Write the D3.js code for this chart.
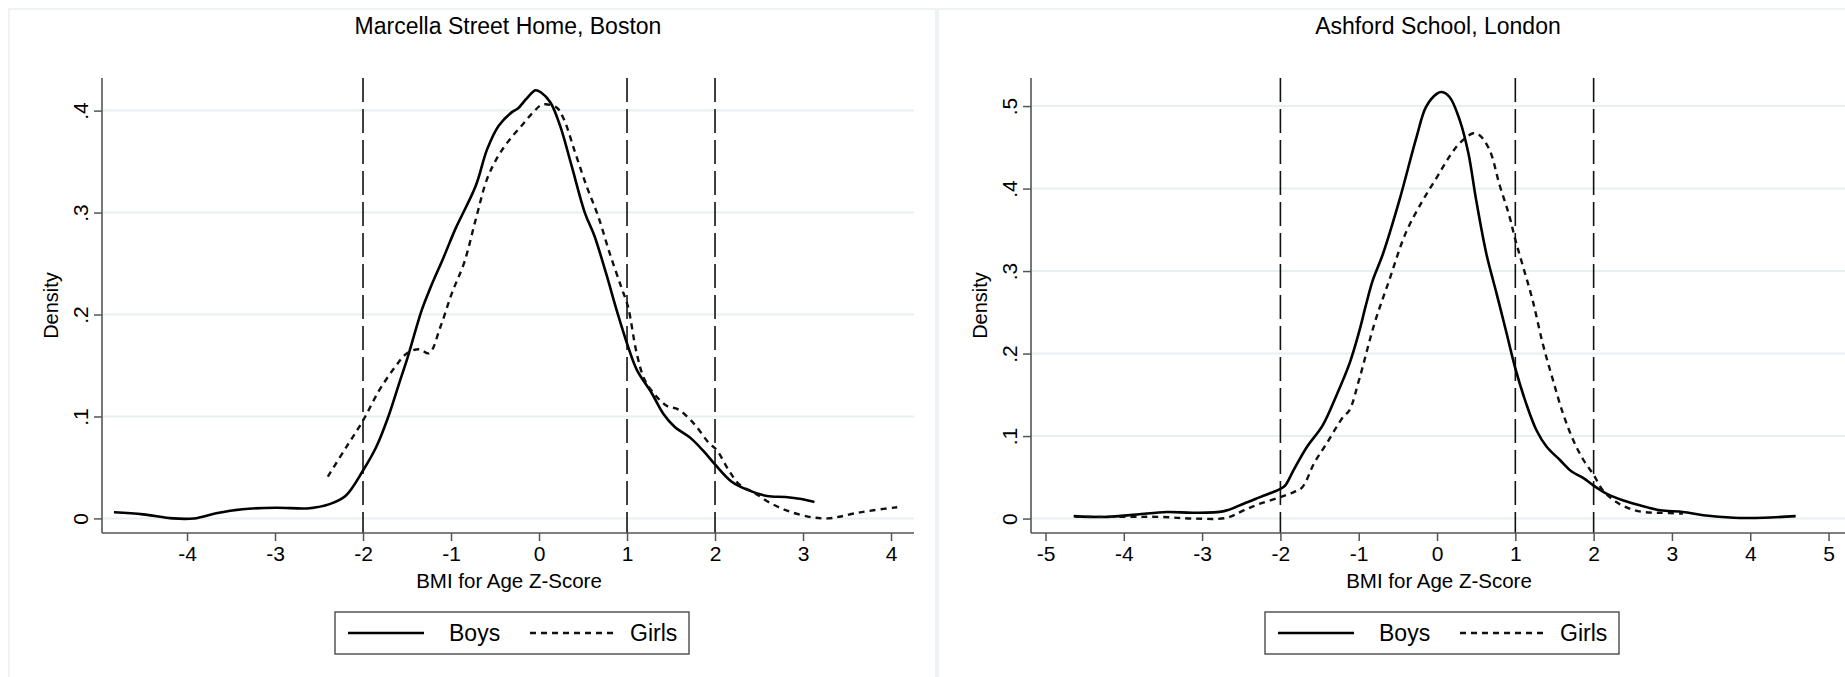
<!DOCTYPE html>
<html>
<head>
<meta charset="utf-8">
<script src="https://cdn.jsdelivr.net/npm/d3@7"></script>
<style>
  body { margin: 0; background: #fff; }
  svg { display: block; }
  text { font-family: "Liberation Sans", Arial, Helvetica, sans-serif; fill: #000; }
</style>
</head>
<body>
<svg width="1845" height="677"></svg>
<script>
// Marcella Street Home, Boston
const bostonBoysX = [-4.83,-4.5,-4.16,-3.92,-3.67,-3.37,-2.99,-2.61,-2.38,-2.2,-2.0,-1.85,-1.72,-1.58,-1.5,-1.33,-1.24,-1.08,-0.95,-0.72,-0.59,-0.46,-0.3,-0.24,-0.15,-0.04,0.02,0.13,0.24,0.37,0.52,0.63,0.76,0.89,1.01,1.11,1.28,1.41,1.54,1.72,1.87,2.01,2.19,2.37,2.59,2.8,2.98,3.13]
const bostonBoysY = [.006,.004,0,0,.005,.009,.0105,.010,.014,.022,.047,.07,.098,.135,.156,.205,.225,.257,.284,.326,.362,.385,.399,.402,.411,.420,.418,.408,.385,.346,.300,.277,.241,.202,.169,.146,.123,.103,.090,.079,.066,.052,.036,.028,.022,.021,.019,.016]
const bostonGirlsX = [-2.4,-2.19,-2.0,-1.82,-1.64,-1.5,-1.36,-1.25,-1.12,-0.99,-0.85,-0.72,-0.59,-0.46,-0.33,-0.2,-0.07,0.04,0.2,0.28,0.41,0.54,0.67,0.8,0.93,1.01,1.11,1.2,1.33,1.46,1.58,1.76,1.93,2.02,2.15,2.28,2.45,2.63,2.85,3.11,3.28,3.41,3.59,3.8,4.07]
const bostonGirlsY = [.041,.070,.096,.125,.148,.162,.166,.162,.188,.221,.251,.293,.333,.356,.372,.385,.398,.406,.403,.392,.359,.326,.297,.261,.228,.208,.162,.136,.120,.110,.107,.093,.074,.067,.048,.033,.025,.015,.0066,.001,0,.0016,.005,.008,.011]

// Ashford School, London
const ashfordBoysX = [-4.64,-4.21,-3.83,-3.45,-3.11,-2.72,-2.47,-2.26,-2.0,-1.94,-1.83,-1.66,-1.46,-1.29,-1.11,-0.99,-0.91,-0.82,-0.69,-0.48,-0.26,-0.14,0.0,0.06,0.16,0.29,0.4,0.5,0.63,0.76,0.89,1.0,1.14,1.27,1.4,1.57,1.72,1.87,2.0,2.17,2.38,2.59,2.85,3.14,3.4,3.79,4.17,4.58]
const ashfordBoysY = [.003,.002,.005,.008,.007,.009,.018,.026,.036,.040,.059,.087,.113,.148,.190,.228,.258,.289,.321,.386,.463,.499,.515,.517,.511,.483,.443,.386,.321,.273,.224,.182,.139,.107,.087,.071,.057,.049,.040,.030,.022,.016,.010,.008,.004,.001,.001,.003]
const ashfordGirlsX = [-4.62,-3.96,-3.53,-3.11,-2.68,-2.47,-2.26,-2.0,-1.83,-1.72,-1.57,-1.41,-1.2,-1.12,-0.99,-0.8,-0.61,-0.4,-0.18,0.0,0.16,0.29,0.46,0.54,0.67,0.8,0.92,1.0,1.1,1.22,1.35,1.48,1.61,1.74,1.87,2.0,2.12,2.29,2.46,2.63,2.85,3.14]
const ashfordGirlsY = [.002,.002,.002,0,.001,.010,.018,.026,.032,.038,.067,.091,.123,.131,.170,.236,.289,.346,.386,.414,.439,.455,.467,.465,.447,.404,.368,.338,.305,.265,.212,.168,.127,.095,.071,.053,.034,.020,.012,.008,.007,.006]

const cutoffs = [-2, 1, 2]
const bostonXTicks = [-4,-3,-2,-1,0,1,2,3,4]
const bostonYTicks = [0,.1,.2,.3,.4]
const bostonYLabels = ["0",".1",".2",".3",".4"]
const ashfordXTicks = [-5,-4,-3,-2,-1,0,1,2,3,4,5]
const ashfordYTicks = [0,.1,.2,.3,.4,.5]
const ashfordYLabels = ["0",".1",".2",".3",".4",".5"]
const seriesNames = ["Boys", "Girls"]

const svg = d3.select("svg")
const plotTop = 78, plotBottom = 533
const font = "'Liberation Sans', Arial, sans-serif"

function zip(xs, ys){ return xs.map((x,i) => ({x, y: ys[i]})) }

function panel(p){
	const g = svg.append("g")
	// graph region frame
	g.append("rect")
		.attr("x", p.frame[0]).attr("y", 9)
		.attr("width", p.frame[1]-p.frame[0]).attr("height", 700)
		.attr("fill", "none").attr("stroke", "#e9eef1").attr("stroke-width", 1.5)

	const x = d3.scaleLinear().domain(p.xDomain).range([p.left, p.right])
	const y = d3.scaleLinear().domain(p.yDomain).range([plotBottom, plotTop])

	// grid
	g.selectAll(".grid").data(p.yTicks).enter().append("line")
		.attr("x1", p.left).attr("x2", p.right)
		.attr("y1", d => y(d)).attr("y2", d => y(d))
		.attr("stroke", "#e8eff1").attr("stroke-width", 2)

	// cutoff lines
	g.selectAll(".cut").data(cutoffs).enter().append("line")
		.attr("x1", d => x(d)).attr("x2", d => x(d))
		.attr("y1", plotTop).attr("y2", plotBottom)
		.attr("stroke", "#111").attr("stroke-width", 1.6)
		.attr("stroke-dasharray", "24,7")

	const line = d3.line().x(d => x(d.x)).y(d => y(d.y)).curve(d3.curveCatmullRom.alpha(0.5))
	g.append("path").datum(zip(p.boysX, p.boysY))
		.attr("d", line).attr("fill", "none").attr("stroke", "#000").attr("stroke-width", 2.6)
	g.append("path").datum(zip(p.girlsX, p.girlsY))
		.attr("d", line).attr("fill", "none").attr("stroke", "#111").attr("stroke-width", 2.4)
		.attr("stroke-dasharray", "6,5")

	// axes
	const xAxis = d3.axisBottom(x).tickValues(p.xTicks).tickSize(8).tickPadding(5).tickFormat(d => String(d))
	const gx = g.append("g").attr("transform", `translate(0,${plotBottom})`).call(xAxis)
	gx.select(".domain").attr("stroke", "#555").attr("stroke-width", 1.6).attr("d", `M${p.left},0H${p.right}`)
	gx.selectAll(".tick line").attr("stroke", "#555").attr("stroke-width", 1.5)
	gx.selectAll(".tick text").attr("font-size", 21).attr("fill", "#000").style("font-family", font)

	const yAxis = d3.axisLeft(y).tickValues(p.yTicks).tickSize(8).tickFormat((d,i) => p.yLabels[i])
	const gy = g.append("g").attr("transform", `translate(${p.left},0)`).call(yAxis)
	gy.select(".domain").attr("stroke", "#555").attr("stroke-width", 1.6).attr("d", `M0,${plotTop}V${plotBottom}`)
	gy.selectAll(".tick line").attr("stroke", "#555").attr("stroke-width", 1.5)
	gy.selectAll(".tick text").attr("font-size", 21).attr("fill", "#000").style("font-family", font)
		.attr("x", null).attr("dy", null)
		.attr("text-anchor", "middle")
		.attr("transform", "translate(-21,0) rotate(-90)")
		.attr("y", 0).attr("dy", "0.35em")

	const cx = (p.left + p.right) / 2
	g.append("text").attr("x", cx).attr("y", 34).attr("text-anchor", "middle")
		.attr("font-size", 23).text(p.title)
	g.append("text").attr("x", cx + 1).attr("y", 588).attr("text-anchor", "middle")
		.attr("font-size", 20.5).text("BMI for Age Z-Score")
	g.append("text").attr("transform", `translate(${p.left-44},${(plotTop+plotBottom)/2}) rotate(-90)`)
		.attr("text-anchor", "middle").attr("font-size", 20).text("Density")

	// legend
	const lg = g.append("g").attr("transform", `translate(${cx},633)`)
	lg.append("rect").attr("x", -173).attr("y", -21).attr("width", 354).attr("height", 42)
		.attr("fill", "#fff").attr("stroke", "#555").attr("stroke-width", 1.5)
	lg.append("line").attr("x1", -160).attr("x2", -84).attr("y1", 0).attr("y2", 0)
		.attr("stroke", "#000").attr("stroke-width", 2.6)
	lg.append("text").attr("x", -59).attr("y", 0).attr("dy", "0.36em").attr("font-size", 23).text(seriesNames[0])
	lg.append("line").attr("x1", 22).attr("x2", 106).attr("y1", 0).attr("y2", 0)
		.attr("stroke", "#111").attr("stroke-width", 2.4).attr("stroke-dasharray", "6,5")
	lg.append("text").attr("x", 122).attr("y", 0).attr("dy", "0.36em").attr("font-size", 23).text(seriesNames[1])
}

panel({
	title: "Marcella Street Home, Boston",
	frame: [9, 936],
	left: 102, right: 914,
	xDomain: [-4.966, 4.261], yDomain: [-0.0143, 0.432],
	xTicks: bostonXTicks, yTicks: bostonYTicks, yLabels: bostonYLabels,
	boysX: bostonBoysX, boysY: bostonBoysY, girlsX: bostonGirlsX, girlsY: bostonGirlsY
})

panel({
	title: "Ashford School, London",
	frame: [938, 1860],
	left: 1031, right: 1845,
	xDomain: [-5.185, 5.21], yDomain: [-0.0175, 0.534],
	xTicks: ashfordXTicks, yTicks: ashfordYTicks, yLabels: ashfordYLabels,
	boysX: ashfordBoysX, boysY: ashfordBoysY, girlsX: ashfordGirlsX, girlsY: ashfordGirlsY
})
</script>
</body>
</html>
